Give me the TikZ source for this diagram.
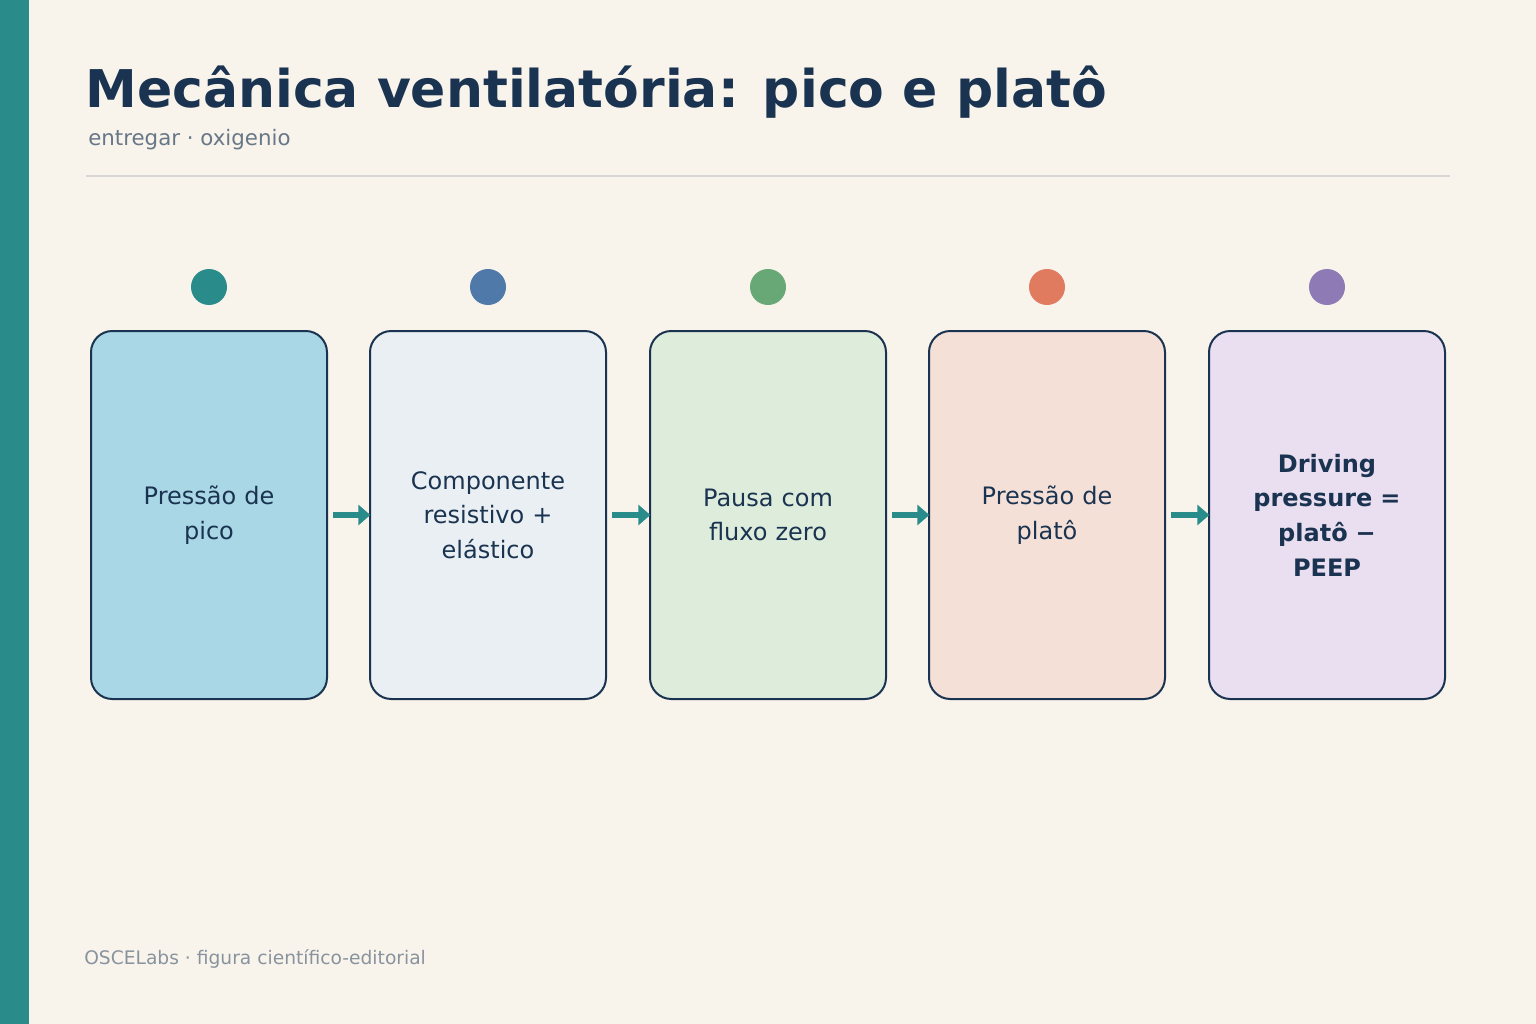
\documentclass[tikz,border=0pt]{standalone}
\usepackage{fontspec}
\setmainfont{DejaVu Sans}
\usetikzlibrary{arrows.meta,positioning}
\definecolor{ink}{HTML}{1A3350}
\definecolor{teal}{HTML}{2A8C8A}
\definecolor{bg}{HTML}{F8F4EC}
\definecolor{fillA}{HTML}{A9D7E5}
\definecolor{fillB}{HTML}{EAEFF3}
\definecolor{fillC}{HTML}{DEEDDB}
\definecolor{fillD}{HTML}{F4E0D7}
\definecolor{fillE}{HTML}{EADFF0}
\definecolor{dotA}{HTML}{2A8C8A}
\definecolor{dotB}{HTML}{4F79A8}
\definecolor{dotC}{HTML}{68A877}
\definecolor{dotD}{HTML}{E07B60}
\definecolor{dotE}{HTML}{8E7BB5}
\tikzset{
  stage/.style={draw=ink, line width=1.5pt, rounded corners=16pt, minimum width=177pt,
    minimum height=276pt, text width=150pt, align=center, text=ink,
    font=\fontsize{18}{26}\selectfont},
  marker/.style={circle, minimum size=27pt, inner sep=0pt},
  flow/.style={-{Triangle[length=9pt,width=15pt]}, teal, line width=5pt, shorten <=4pt, shorten >=-1pt}
}
\begin{document}
\begin{tikzpicture}[x=0.75pt, y=-0.75pt]
  \fill[bg] (0,0) rectangle (1536,1024);
  \fill[teal] (0,0) rectangle (29,1024);
  \useasboundingbox (0,0) rectangle (1536,1024);

  \node[anchor=base west, inner sep=0pt, text=ink, font=\fontsize{39}{46}\selectfont\bfseries] (title) at (85,108) {Mecânica ventilatória: pico e platô};
  \node[anchor=base west, inner sep=0pt, text=ink!65!bg, font=\fontsize{16}{20}\selectfont] (sub) at (88,146) {entregar · oxigenio};
  \draw[line width=1.5pt, color=ink!15!bg] (86,176) -- (1450,176);

  % Stages
  \node[stage, fill=fillA] (s1) at (209,515) {Pressão de\\pico};
  \node[stage, fill=fillB] (s2) at (488,515) {Componente\\resistivo +\\elástico};
  \node[stage, fill=fillC] (s3) at (768,515) {Pausa com\\fluxo zero};
  \node[stage, fill=fillD] (s4) at (1047,515) {Pressão de\\platô};
  \node[stage, fill=fillE, font=\fontsize{18}{26}\selectfont\bfseries] (s5) at (1327,515) {Driving\\pressure =\\platô −\\PEEP};

  \node[marker, fill=dotA] (m1) at (209,287) {};
  \node[marker, fill=dotB] (m2) at (488,287) {};
  \node[marker, fill=dotC] (m3) at (768,287) {};
  \node[marker, fill=dotD] (m4) at (1047,287) {};
  \node[marker, fill=dotE] (m5) at (1327,287) {};

  % Arrows
  \draw[flow] (s1) -- (s2);
  \draw[flow] (s2) -- (s3);
  \draw[flow] (s3) -- (s4);
  \draw[flow] (s4) -- (s5);

  \node[anchor=base west, inner sep=0pt, text=ink!50!bg, font=\fontsize{14}{18}\selectfont] (foot) at (84,964) {OSCELabs · figura científico-editorial};
\end{tikzpicture}
\end{document}
